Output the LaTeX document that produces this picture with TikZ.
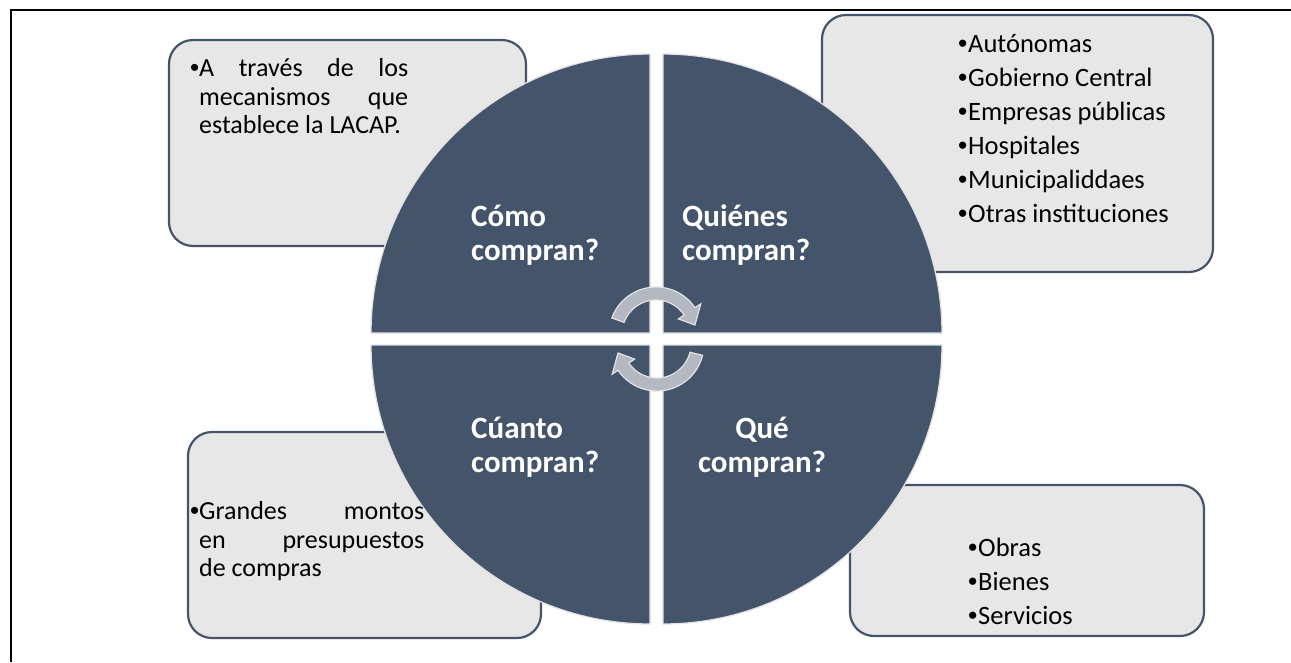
\documentclass[tikz,border=0pt]{standalone}
\usepackage{fontspec}
\setmainfont{Carlito}
\newfontfamily\bulfont{Liberation Sans}
\usetikzlibrary{calc}
\definecolor{slate}{RGB}{68,84,106}
\definecolor{boxfill}{RGB}{231,231,231}
\definecolor{arrowfill}{RGB}{180,184,193}
\definecolor{edgegray}{RGB}{226,226,228}
\tikzset{
  infobox/.style={draw=slate, line width=2.2pt, fill=boxfill, rounded corners=24pt, inner sep=0pt},
  quad/.style={fill=slate, draw=edgegray, line width=1.3pt},
  cyclearrow/.style={fill=arrowfill, draw=edgegray, line width=1.2pt, line join=miter},
  smalltext/.style={inner sep=0pt, anchor=base west, font=\fontsize{26}{28.5}\selectfont},
  bigtext/.style={inner sep=0pt, anchor=base west, font=\fontsize{26.5}{34}\selectfont},
  label/.style={inner sep=0pt, text=white, font=\bfseries\fontsize{31}{34}\selectfont},
  frameline/.style={draw=black, line width=1.5pt}
}
\newcommand{\bul}[1]{\makebox[#1][l]{{\bulfont •}}}
\begin{document}
\begin{tikzpicture}[x=1pt,y=-1pt]
\useasboundingbox (0,0) rectangle (1291,662);
\fill[white] (0,0) rectangle (1291,662);
% frame
\coordinate (fa) at (11,662);
\coordinate (fb) at (11,10);
\coordinate (fc) at (1291,10);
\draw[frameline] (fa) -- (fb) -- (fc);
% boxes
\node[infobox, minimum width=357pt, minimum height=206pt] (howbox) at (347.5,143) {};
\node[infobox, minimum width=391pt, minimum height=257pt] (whobox) at (1017.5,143.5) {};
\node[infobox, minimum width=353pt, minimum height=206pt] (howmuchbox) at (364.5,535) {};
\node[infobox, minimum width=354pt, minimum height=151pt] (whatbox) at (1027,560.5) {};
% quadrants
\coordinate (ctl) at (650,333);
\coordinate (ctr) at (663,333);
\coordinate (cbl) at (650,345);
\coordinate (cbr) at (663,345);
\path[quad] (ctl) -- ++(180:279) arc[start angle=180, end angle=270, radius=279] -- cycle;
\path[quad] (ctr) -- ++(270:279) arc[start angle=270, end angle=360, radius=279] -- cycle;
\path[quad] (cbr) -- ++(0:279) arc[start angle=0, end angle=90, radius=279] -- cycle;
\path[quad] (cbl) -- ++(90:279) arc[start angle=90, end angle=180, radius=279] -- cycle;
% cycle arrows
\coordinate (c1) at (656,334);
\coordinate (c2) at (657,344);
\path[cyclearrow] ($(c1)+(200:47)$) arc[start angle=200, end angle=326, radius=47]
  -- ($(c1)+(326:54)$) -- ($(c1)+(347:40)$) -- ($(c1)+(326:27)$) -- ($(c1)+(326:34)$)
  arc[start angle=326, end angle=200, radius=34] -- cycle;
\path[cyclearrow] ($(c2)+(14:47)$) arc[start angle=14, end angle=146, radius=47]
  -- ($(c2)+(146:54)$) -- ($(c2)+(167:40)$) -- ($(c2)+(146:27)$) -- ($(c2)+(146:34)$)
  arc[start angle=146, end angle=14, radius=34] -- cycle;
% box texts
\node[smalltext] (howtext) at (190,76.5) {\parbox[t]{218pt}{\hangindent=9pt\hangafter=1\noindent\bul{9pt}A través de los\linebreak mecanismos que\linebreak establece la LACAP.}};
\node[smalltext] (howmuchtext) at (190,519.5) {\parbox[t]{234pt}{\hangindent=9pt\hangafter=1\noindent\bul{9pt}Grandes montos\linebreak en presupuestos\linebreak de compras}};
\node[bigtext] (whotext) at (958,52.7) {\parbox[t]{250pt}{\raggedright
\bul{10pt}Autónomas\par
\bul{10pt}Gobierno Central\par
\bul{10pt}Empresas públicas\par
\bul{10pt}Hospitales\par
\bul{10pt}Municipaliddaes\par
\bul{10pt}Otras instituciones}};
\node[bigtext] (whattext) at (968,556.5) {\parbox[t]{200pt}{\raggedright
\bul{10pt}Obras\par
\bul{10pt}Bienes\par
\bul{10pt}Servicios}};
% quadrant labels
\node[label, anchor=base west] (howlabel) at (471,226) {\parbox[t]{200pt}{\raggedright Cómo\\compran?}};
\node[label, anchor=base west] (wholabel) at (682,226) {\parbox[t]{200pt}{\raggedright Quiénes\\compran?}};
\node[label, anchor=base west] (howmuchlabel) at (471,438) {\parbox[t]{200pt}{\raggedright Cúanto\\compran?}};
\node[label, anchor=base] (whatlabel) at (762,438) {\parbox[t]{200pt}{\centering Qué\\compran?}};
\end{tikzpicture}
\end{document}
